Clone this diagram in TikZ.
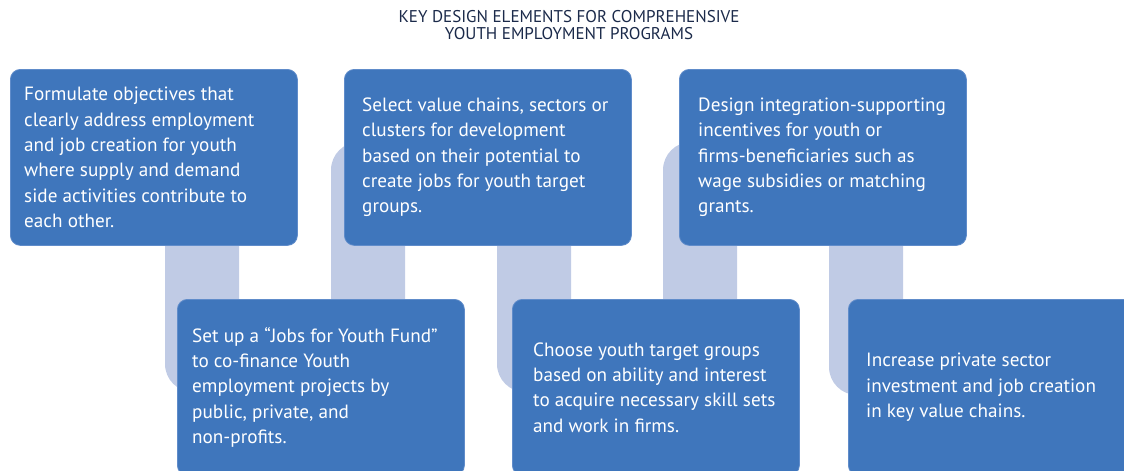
\documentclass[tikz,border=0pt]{standalone}
\usepackage{fontspec}
\setmainfont{PT Sans}
\usetikzlibrary{calc}
\definecolor{boxblue}{RGB}{63,118,188}
\definecolor{boxedge}{RGB}{96,140,202}
\definecolor{connblue}{RGB}{192,203,229}
\definecolor{titlecol}{RGB}{27,42,74}
\begin{document}
\begin{tikzpicture}[x=1pt,y=-1pt,
  box/.style={draw=boxedge, line width=0.8pt, fill=boxblue, rounded corners=10pt,
    anchor=north west, minimum width=287pt, minimum height=176pt, inner sep=0pt},
  txt/.style={text=white, anchor=west, align=left, inner sep=0pt,
    font=\fontsize{19.2}{25.3}\selectfont},
  conn/.style={fill=connblue, rounded corners=28pt},
  ttl/.style={text=titlecol, align=center, inner sep=0pt,
    font=\fontsize{17}{17}\selectfont}]
\useasboundingbox (0,0) rectangle (1124,471);
\clip (0,0) rectangle (1124,471);

% connectors (behind the boxes)
\fill[conn] (165,200) rectangle (239,392);
\fill[conn] (331,142) rectangle (405,350);
\fill[conn] (497,200) rectangle (571,392);
\fill[conn] (663,142) rectangle (737,350);
\fill[conn] (829,200) rectangle (903,395);

% title
\node[ttl] (title) at (569,25.5) {KEY DESIGN ELEMENTS FOR COMPREHENSIVE\\YOUTH EMPLOYMENT PROGRAMS};

% boxes
\node[box] (b1) at (10,69) {};
\node[box] (b2) at (344,69) {};
\node[box] (b3) at (679,69) {};
\node[box] (b4) at (177,299) {};
\node[box] (b5) at (512,299) {};
\node[box] (b6) at (848,299) {};

% texts
\node[txt] (t1) at ($(b1.west)+(14,0)$) {Formulate objectives that\\clearly address employment\\and job creation for youth\\where supply and demand\\side activities contribute to\\each other.};
\node[txt] (t2) at ($(b2.west)+(18,0)$) {Select value chains, sectors or\\clusters for development\\based on their potential to\\create jobs for youth target\\groups.};
\node[txt] (t3) at ($(b3.west)+(19,0)$) {Design integration-supporting\\incentives for youth or\\firms-beneficiaries such as\\wage subsidies or matching\\grants.};
\node[txt] (t4) at ($(b4.west)+(15,0)$) {Set up a “Jobs for Youth Fund”\\to co-finance Youth\\employment projects by\\public, private, and\\non-profits.};
\node[txt] (t5) at ($(b5.west)+(21,0)$) {Choose youth target groups\\based on ability and interest\\to acquire necessary skill sets\\and work in firms.};
\node[txt] (t6) at ($(b6.west)+(18,0)$) {Increase private sector\\investment and job creation\\in key value chains.};
\end{tikzpicture}
\end{document}
